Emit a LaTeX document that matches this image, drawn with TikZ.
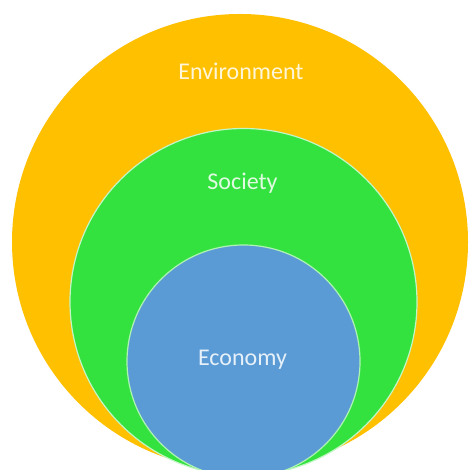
\documentclass[tikz,border=0pt]{standalone}
\usepackage{fontspec}
\setmainfont{Carlito}
\definecolor{envcol}{HTML}{FFC000}
\definecolor{soccol}{HTML}{33E23F}
\definecolor{ecocol}{HTML}{5B9BD5}
\begin{document}
\begin{tikzpicture}[x=1pt,y=1pt,
  ring/.style={circle, inner sep=0pt, outer sep=0pt},
  lbl/.style={font=\fontsize{24}{28}\selectfont, text=white, text opacity=0.85, inner sep=0pt}]
\useasboundingbox (0,0) rectangle (468,470);
\clip (0,0) rectangle (468,470);
\fill[white] (0,0) rectangle (468,470);
\node[ring, fill=envcol, minimum size=456pt] (env) at (240,228) {};
\node[ring, fill=soccol, draw=white!70!soccol, line width=1.2pt, minimum size=347pt] (soc) at (243.5,168) {};
\node[ring, fill=ecocol, draw=white!60!soccol, line width=1.2pt, minimum size=233pt] (eco) at (243.5,108.5) {};
\node[lbl] (envt) at (241,399) {Environment};
\node[lbl] (soct) at (242.5,287) {Society};
\node[lbl] (ecot) at (242.5,110) {Economy};
\end{tikzpicture}
\end{document}
